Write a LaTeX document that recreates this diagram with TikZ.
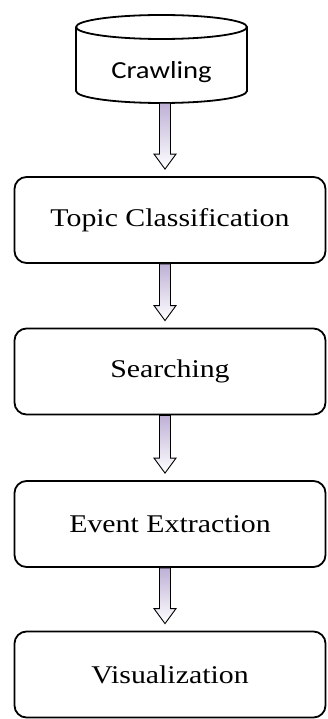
\documentclass[tikz,border=0pt]{standalone}
\usepackage{fontspec}
\setmainfont{Liberation Serif}
\newfontfamily\calibri{Carlito}
\usepackage{graphicx}
\usepackage{tikz}
\usetikzlibrary{calc}
\definecolor{shaftlav}{RGB}{190,176,214}
\newcommand{\widetext}[2][1.17]{\scalebox{#1}[1]{#2}}
\tikzset{
  stepbox/.style={draw, line width=1.8pt, rounded corners=12pt,
                  minimum width=311pt, minimum height=86pt, inner sep=0pt,
                  font=\fontsize{25.5}{30}\selectfont},
  cylline/.style={line width=1.8pt},
  hollowarrow/.style={draw, line width=0.9pt, top color=shaftlav, bottom color=white,
                      line join=miter},
}
% block arrow from the bottom of #1 to just above #2
\newcommand{\blockarrow}[2]{%
  \path[hollowarrow]
    ($(#1.south -| ax)+(-5.5,0)$) -- ($(#2.north -| ax)+(-5.5,22)$)
    -- ++(-5.5,0) -- ($(#2.north -| ax)+(0,7)$) -- ($(#2.north -| ax)+(11,22)$)
    -- ++(-5.5,0) -- ($(#1.south -| ax)+(5.5,0)$) -- cycle;}

\begin{document}
\begin{tikzpicture}[x=1pt,y=1pt]
  \useasboundingbox (0,0) rectangle (327,-719);
  \coordinate (ax) at (165,0);
  % crawling cylinder
  \draw[cylline, fill=white] (76,-27) -- (76,-91) arc[start angle=180, end angle=360, x radius=85.5, y radius=12]
    -- (247,-27) arc[start angle=0, end angle=180, x radius=85.5, y radius=12];
  \draw[cylline] (76,-27) arc[start angle=180, end angle=360, x radius=85.5, y radius=12];
  \node[minimum width=171pt, minimum height=62pt, inner sep=0pt,
        font=\calibri\fontsize{24.5}{28}\selectfont] (crawl) at (161.5,-72) {\widetext{Crawling}};
  % steps
  \node[stepbox] (topic)  at (170,-220)   {\widetext{Topic Classification}};
  \node[stepbox] (search) at (170,-371.5) {\widetext{Searching}};
  \node[stepbox] (event)  at (170,-524)   {\widetext{Event Extraction}};
  \node[stepbox] (visual) at (170,-674.5) {\widetext{Visualization}};
  % arrows
  \blockarrow{crawl}{topic}
  \blockarrow{topic}{search}
  \blockarrow{search}{event}
  \blockarrow{event}{visual}
\end{tikzpicture}
\end{document}
